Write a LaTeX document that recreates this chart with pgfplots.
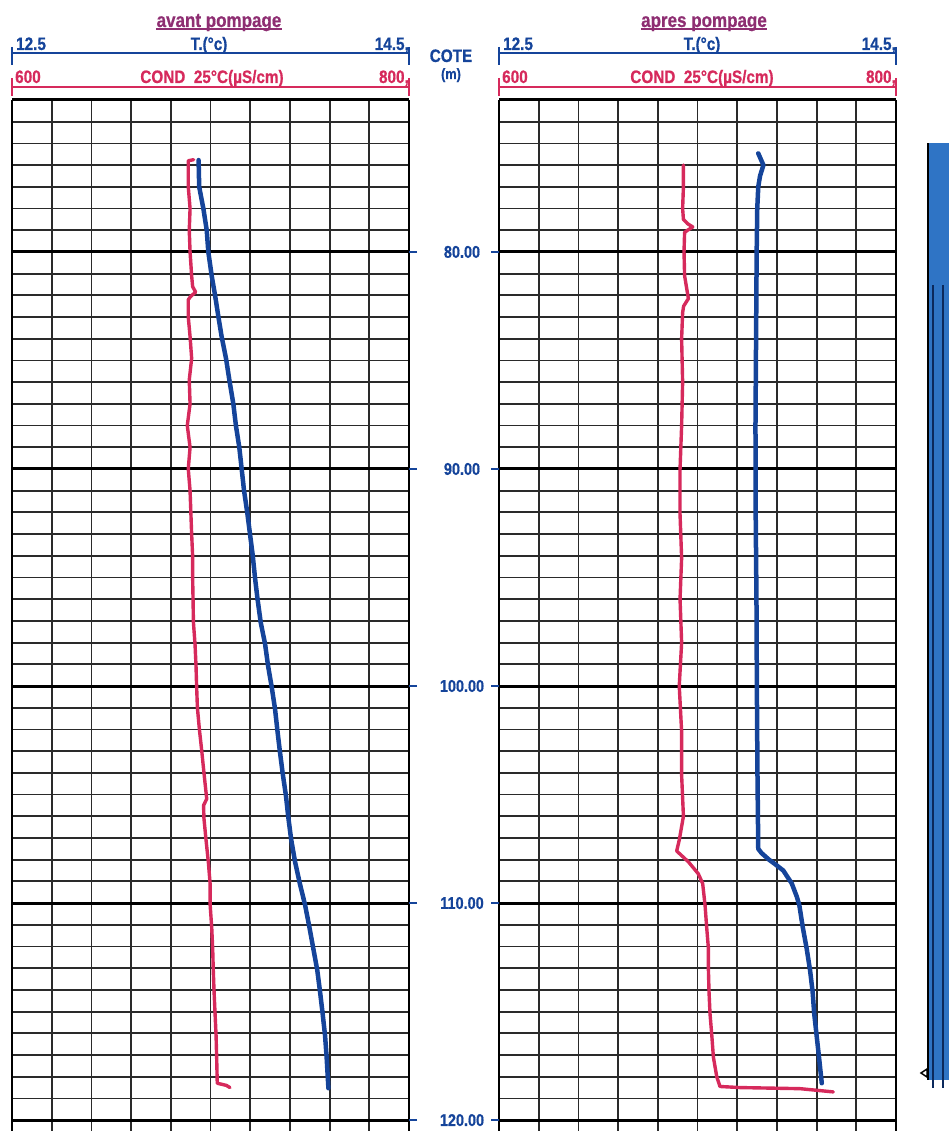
\documentclass[border=0pt]{standalone}
\usepackage{pgfplots}
\pgfplotsset{compat=1.18}
\usepackage{fontspec}
\setmainfont{Liberation Sans}
\newfontfamily\hdr{Liberation Sans}[FakeStretch=0.85, FakeBold=0.6]
\definecolor{cblue}{HTML}{15449A}
\definecolor{cred}{HTML}{D62A5C}
\definecolor{cpurp}{HTML}{8E2E72}
\definecolor{cbar}{HTML}{2F74C5}
\definecolor{gridc}{HTML}{2A2A2A}
\newcommand\ttl{\hdr\bfseries\fontsize{20bp}{20bp}\selectfont}
\newcommand\lab{\hdr\bfseries\fontsize{18bp}{18bp}\selectfont}

% depth (m), temperature (C) -- before pumping
\pgfplotstableread{
d T
75.77 13.440
77.0 13.443
78.0 13.464
79.0 13.481
80.0 13.489
81.1 13.506
82.0 13.523
83.0 13.540
83.9 13.556
84.9 13.578
85.9 13.595
87.0 13.615
88.0 13.628
89.0 13.645
90.0 13.657
91.0 13.669
92.0 13.685
93.0 13.699
94.0 13.713
95.0 13.724
96.0 13.737
97.07 13.753
98.07 13.775
99.07 13.790
100.03 13.808
101.05 13.825
102.05 13.837
103.05 13.850
104.05 13.864
105.05 13.880
106.05 13.892
107.05 13.906
108.1 13.926
109.1 13.950
110.07 13.976
111.1 13.998
112.1 14.018
113.1 14.038
114.1 14.052
115.1 14.065
116.1 14.077
117.1 14.085
118.53 14.094
}\TavantTable

% depth (m), conductivity 25C (uS/cm) -- before pumping
\pgfplotstableread{
d C
75.75 691.5
75.8 688.8
77.0 688.8
78.0 689.7
79.0 689.3
80.0 689.7
81.1 690.5
81.6 691.0
81.85 692.5
82.05 690.0
82.2 688.8
83.0 688.8
83.9 689.7
84.9 690.5
85.9 689.3
87.0 689.7
88.0 688.3
89.0 689.7
90.0 688.8
91.0 689.7
92.0 690.1
93.0 690.5
94.0 691.0
95.0 691.0
96.0 691.2
97.07 691.4
98.07 692.2
99.07 692.7
100.0 693.0
101.0 693.4
102.0 694.4
103.0 695.6
104.0 696.7
105.2 698.1
105.5 696.5
106.1 696.7
107.05 697.7
108.1 698.9
109.1 699.8
110.07 699.8
111.1 700.6
112.1 701.1
113.1 701.4
114.1 701.8
115.1 702.3
116.1 702.8
117.1 703.1
118.3 703.4
118.4 708.0
118.5 709.8
}\CavantTable

% depth (m), temperature (C) -- after pumping
\pgfplotstableread{
d T
75.46 13.806
76.0 13.832
76.5 13.815
77.0 13.806
78.0 13.801
80.0 13.798
84.0 13.795
88.0 13.792
92.0 13.793
96.0 13.797
100.0 13.799
104.0 13.802
107.5 13.806
107.7 13.823
108.0 13.860
108.2 13.890
108.5 13.932
109.1 13.975
109.7 14.000
110.1 14.013
111.1 14.030
112.1 14.050
113.1 14.067
114.1 14.080
115.1 14.088
116.1 14.100
117.1 14.112
118.3 14.126
}\TapresTable

% depth (m), conductivity 25C (uS/cm) -- after pumping
\pgfplotstableread{
d C
76.0 692.9
77.0 692.9
78.0 692.5
78.5 692.9
78.7 695.0
78.85 697.6
79.0 695.0
79.1 693.5
80.0 693.2
81.1 693.5
82.15 695.4
82.5 693.0
82.8 692.5
84.0 692.0
86.0 692.5
88.0 692.0
90.0 691.2
92.1 691.2
94.1 692.0
96.0 691.2
98.0 692.0
100.0 690.8
102.1 692.0
104.1 692.0
106.0 692.9
107.1 690.8
107.6 689.5
108.1 695.4
108.65 700.4
109.1 702.6
110.1 703.8
111.1 704.6
112.1 705.5
113.1 705.5
114.1 705.8
115.1 706.3
116.1 707.2
117.1 708.0
118.0 709.7
118.45 711.3
118.5 721.4
118.55 751.6
118.7 768.4
}\CapresTable

\pgfplotsset{
  frame/.style={scale only axis, width=397bp, height=1031bp,
    ymin=73, ymax=120.5, y dir=reverse, anchor=north west},
  gridpanel/.style={frame, xmin=600, xmax=800,
    xtick={600,620,...,800}, ytick={73,74,...,120},
    xticklabels={}, yticklabels={},
    grid=major,
    major grid style={gridc, line width=1.8bp},
    major tick length=0bp,
    separate axis lines,
    x axis line style={draw=none},
    y axis line style={black, line width=2.8bp},
    extra y ticks={80,90,...,120},
    extra y tick style={
      major grid style={black, line width=3bp},
      major tick length=8bp, tick align=outside,
      y tick style={cblue, line width=2bp}},
    clip=false},
  overlay/.style={frame, axis lines=none},
}

\newcommand\header[5]{%
  \node[anchor=base, text=cpurp, font=\ttl, inner sep=0pt] (t#1) at (#3, 1131-27) {#2};
  \draw[cpurp, line width=2bp] ([yshift=-2.5bp]t#1.base west) -- ([yshift=-2.5bp]t#1.base east);
  \draw[cblue, line width=2.6bp] (12+#1, 1131-53) -- (409+#1, 1131-53);
  \draw[cblue, line width=2.6bp] (12+#1, 1131-47) -- (12+#1, 1131-65);
  \draw[cblue, line width=2.6bp] (409+#1, 1131-47) -- (409+#1, 1131-65);
  \node[anchor=base west, text=cblue, font=\lab, inner sep=0pt] at (16+#1, 1131-50) {12.5};
  \node[anchor=base, text=cblue, font=\lab, inner sep=0pt] at (#4, 1131-50) {T.(°c)};
  \node[anchor=base east, text=cblue, font=\lab, inner sep=0pt] at (409+#1, 1131-50) {14.5,};
  \draw[cred, line width=2.6bp] (12+#1, 1131-87) -- (409+#1, 1131-87);
  \draw[cred, line width=2.6bp] (12+#1, 1131-78) -- (12+#1, 1131-96);
  \draw[cred, line width=2.6bp] (409+#1, 1131-78) -- (409+#1, 1131-96);
  \node[anchor=base west, text=cred, font=\lab, inner sep=0pt] at (15+#1, 1131-83) {600};
  \node[anchor=base, text=cred, font=\lab, inner sep=0pt] at (#5, 1131-83) {COND\ \ 25°C(µS/cm)};
  \node[anchor=base east, text=cred, font=\lab, inner sep=0pt] at (409+#1, 1131-83) {800,};
}

\begin{document}
\begin{tikzpicture}[x=1bp, y=1bp]
\path[use as bounding box] (0,0) rectangle (949,1131);

% ---------- left panel: avant pompage ----------
\begin{axis}[gridpanel, at={(12bp,1031bp)}, ytick pos=right, extra y tick labels={}]
  \draw[black, line width=3bp] (axis cs:600,73) -- (axis cs:800,73);
\end{axis}
\begin{axis}[overlay, at={(12bp,1031bp)}, xmin=12.5, xmax=14.5]
  \addplot[cblue, line width=4.5bp, line join=round, line cap=round] table[x=T, y=d] {\TavantTable};
\end{axis}
\begin{axis}[overlay, at={(12bp,1031bp)}, xmin=600, xmax=800]
  \addplot[cred, line width=3.4bp, line join=round, line cap=round] table[x=C, y=d] {\CavantTable};
\end{axis}

% ---------- right panel: apres pompage ----------
\begin{axis}[gridpanel, at={(499bp,1031bp)}, ytick pos=left,
    extra y tick labels={80.00,90.00,100.00,110.00,120.00},
    extra y tick style={yticklabel style={font=\hdr\bfseries\fontsize{17bp}{17bp}\selectfont, text=cblue, anchor=center, xshift=-29bp}}]
  \draw[black, line width=3bp] (axis cs:600,73) -- (axis cs:800,73);
\end{axis}
\begin{axis}[overlay, at={(499bp,1031bp)}, xmin=12.5, xmax=14.5]
  \addplot[cblue, line width=4.5bp, line join=round, line cap=round] table[x=T, y=d] {\TapresTable};
\end{axis}
\begin{axis}[overlay, at={(499bp,1031bp)}, xmin=600, xmax=800]
  \addplot[cred, line width=3.4bp, line join=round, line cap=round] table[x=C, y=d] {\CapresTable};
\end{axis}

% ---------- headers ----------
\header{0}{avant pompage}{219}{209}{212}
\header{487}{apres pompage}{704}{702}{702}

\node[anchor=base, text=cblue, font=\hdr\bfseries\fontsize{18bp}{18bp}\selectfont, inner sep=0pt] at (451, 1131-62) {COTE};
\node[anchor=base, text=cblue, font=\hdr\bfseries\fontsize{15bp}{15bp}\selectfont, inner sep=0pt] at (451, 1131-79) {(m)};

% ---------- well casing sketch at right ----------
\fill[cbar] (927, 1131-1080) rectangle (952, 1131-143);
\draw[black, line width=2bp] (928, 1131-1080) -- (928, 1131-143);
\draw[cblue!60!black, line width=1.2bp] (933, 1131-1088) -- (933, 1131-285);
\draw[cblue!60!black, line width=1.2bp] (943, 1131-1088) -- (943, 1131-285);
\draw[black, line width=1.5bp, fill=white] (921, 1131-1073) -- (927, 1131-1069) -- (927, 1131-1077) -- cycle;
\end{tikzpicture}
\end{document}
